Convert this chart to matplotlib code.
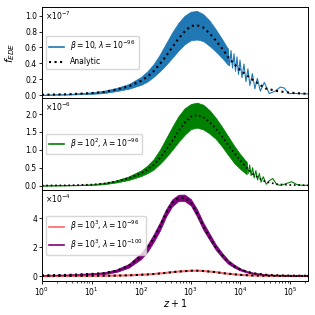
import numpy as np
import matplotlib
matplotlib.use("Agg")
import matplotlib.pyplot as plt
from matplotlib.ticker import MultipleLocator, FormatStrFormatter

lz = [0.0, 0.5, 1.0, 1.25, 1.5, 1.75, 2.0, 2.125, 2.25, 2.375, 2.5, 2.625, 2.75, 2.875,
      3.0, 3.125, 3.25, 3.375, 3.5, 3.625, 3.75, 3.875, 4.0, 4.125, 4.25, 4.5, 4.75, 5.0, 5.37]

# panel 1 : beta = 10, lambda = 1e-96  (units of 1e-7)
an1 = [0.005, 0.01, 0.025, 0.04, 0.07, 0.11, 0.18, 0.23, 0.30, 0.39, 0.49, 0.60, 0.71, 0.80,
       0.87, 0.88, 0.85, 0.78, 0.69, 0.59, 0.48, 0.39, 0.31, 0.25, 0.19, 0.085, 0.05, 0.03, 0.015]
up1 = [0.007, 0.014, 0.035, 0.055, 0.09, 0.14, 0.23, 0.30, 0.39, 0.51, 0.65, 0.79, 0.91, 1.00,
       1.05, 1.06, 1.02, 0.94, 0.83, 0.71, 0.58]
lo1 = [0.003, 0.006, 0.015, 0.025, 0.05, 0.08, 0.13, 0.17, 0.23, 0.30, 0.38, 0.47, 0.56, 0.64,
       0.69, 0.70, 0.68, 0.62, 0.55, 0.47, 0.38]
lz_tail1 = [3.75, 3.78, 3.81, 3.84, 3.87, 3.90, 3.93, 3.96, 3.99, 4.03, 4.07, 4.11, 4.15,
            4.19, 4.24, 4.29, 4.34, 4.40, 4.48, 4.58, 4.70, 4.80, 4.88, 4.97, 5.10, 5.37]
tail1 = [0.58, 0.37, 0.56, 0.34, 0.52, 0.30, 0.48, 0.26, 0.44, 0.22, 0.39, 0.17, 0.33,
         0.12, 0.27, 0.08, 0.21, 0.05, 0.16, 0.02, 0.05, 0.10, 0.09, 0.02, 0.02, 0.015]

# panel 2 : beta = 1e2, lambda = 1e-96  (units of 1e-6)
an2 = [0.005, 0.01, 0.03, 0.06, 0.12, 0.21, 0.35, 0.45, 0.58, 0.77, 1.0, 1.25, 1.52, 1.75,
       1.93, 1.97, 1.91, 1.78, 1.60, 1.38, 1.14, 0.91, 0.70, 0.50, 0.32, 0.11, 0.04, 0.02, 0.01]
up2 = [0.007, 0.014, 0.04, 0.08, 0.15, 0.26, 0.43, 0.56, 0.74, 1.00, 1.32, 1.64, 1.94, 2.16,
       2.28, 2.32, 2.26, 2.11, 1.90, 1.65, 1.38, 1.11, 0.87, 0.66]
lo2 = [0.003, 0.006, 0.02, 0.04, 0.09, 0.16, 0.27, 0.35, 0.45, 0.61, 0.79, 1.00, 1.22, 1.42,
       1.58, 1.62, 1.57, 1.46, 1.31, 1.10, 0.86, 0.63, 0.46, 0.32]
lz_tail2 = [4.125, 4.155, 4.185, 4.215, 4.245, 4.275, 4.31, 4.345, 4.38, 4.415, 4.46, 4.52,
            4.58, 4.65, 4.73, 4.82, 4.92, 5.03, 5.14, 5.25, 5.37]
tail2 = [0.66, 0.34, 0.58, 0.28, 0.50, 0.22, 0.42, 0.16, 0.34, 0.10, 0.25, 0.04,
         0.14, 0.20, 0.03, 0.01, 0.06, 0.11, 0.03, 0.01, 0.01]

# panel 3 : beta = 1e3  (units of 1e-4)
an_p = [0.05, 0.08, 0.15, 0.20, 0.36, 0.70, 1.38, 1.90, 2.60, 3.40, 4.35, 5.05, 5.40, 5.40,
        5.10, 4.35, 3.45, 2.72, 2.00, 1.45, 0.98, 0.68, 0.45, 0.30, 0.20, 0.09, 0.05, 0.03, 0.02]
up_p = [0.08, 0.11, 0.20, 0.27, 0.46, 0.84, 1.60, 2.15, 2.88, 3.70, 4.62, 5.30, 5.62, 5.63,
        5.32, 4.62, 3.70, 2.95, 2.20, 1.62, 1.12, 0.79, 0.53, 0.36, 0.25, 0.12, 0.07, 0.04, 0.03]
lo_p = [0.03, 0.05, 0.11, 0.14, 0.28, 0.58, 1.18, 1.67, 2.35, 3.12, 4.10, 4.82, 5.18, 5.18,
        4.88, 4.10, 3.20, 2.50, 1.82, 1.30, 0.85, 0.58, 0.38, 0.25, 0.16, 0.07, 0.04, 0.02, 0.015]
an_r = [0.0, 0.005, 0.01, 0.02, 0.03, 0.05, 0.09, 0.11, 0.14, 0.18, 0.22, 0.27, 0.31, 0.34,
        0.365, 0.37, 0.35, 0.31, 0.27, 0.21, 0.16, 0.12, 0.08, 0.06, 0.04, 0.02, 0.01, 0.005, 0.003]

labels = [r'$\beta=10$, $\lambda=10^{-96}$',
          r'$\beta=10^{2}$, $\lambda=10^{-96}$',
          r'$\beta=10^{3}$, $\lambda=10^{-96}$',
          r'$\beta=10^{3}$, $\lambda=10^{-100}$']
offsets = [r'$\times10^{-7}$', r'$\times10^{-6}$', r'$\times10^{-4}$']


def zp1(l):
    return 10 ** np.array(l)


plt.rcParams['font.size'] = 5.5
fig, axes = plt.subplots(3, 1, figsize=(3.15, 3.15), dpi=100, sharex=True)
fig.subplots_adjust(left=0.133, right=0.978, top=0.978, bottom=0.108, hspace=0)

# top
ax = axes[0]
ax.fill_between(zp1(lz[:21]), lo1, up1, color='C0', lw=0.5)
ax.plot(zp1(lz_tail1), tail1, color='C0', lw=0.8)
ax.plot(zp1(lz), an1, 'k:', lw=1.5)
h1, = ax.plot([], [], color='C0', lw=1.2, label=labels[0])
h2, = ax.plot([], [], 'k:', lw=1.5, label='Analytic')
ax.legend(handles=[h1, h2], loc='center left', fontsize=5.5)
ax.set_ylim(-0.04, 1.11)
ax.yaxis.set_major_locator(MultipleLocator(0.2))
ax.yaxis.set_major_formatter(FormatStrFormatter('%.1f'))
ax.set_ylabel(r'$f_{EDE}$', fontsize=7.5)
ax.yaxis.set_label_coords(-0.095, 0.5)

# middle
ax = axes[1]
ax.fill_between(zp1(lz[:24]), lo2, up2, color='green', lw=0.5)
ax.plot(zp1(lz_tail2), tail2, color='green', lw=0.8)
ax.plot(zp1(lz), an2, 'k:', lw=1.2)
h3, = ax.plot([], [], color='green', lw=1.2, label=labels[1])
ax.legend(handles=[h3], loc='center left', fontsize=5.5)
ax.set_ylim(-0.11, 2.44)
ax.yaxis.set_major_locator(MultipleLocator(0.5))
ax.yaxis.set_major_formatter(FormatStrFormatter('%.1f'))

# bottom
ax = axes[2]
ax.plot(zp1(lz), an_r, color='red', alpha=0.6, lw=1.5)
ax.fill_between(zp1(lz), lo_p, up_p, color='purple', lw=0.5)
ax.plot(zp1(lz), an_r, 'k:', lw=1.5)
ax.plot(zp1(lz), an_p, 'k:', lw=1.5)
h4, = ax.plot([], [], color='red', alpha=0.6, lw=1.2, label=labels[2])
h5, = ax.plot([], [], color='purple', lw=1.2, label=labels[3])
ax.legend(handles=[h4, h5], loc='center left', fontsize=5.5)
ax.set_ylim(-0.34, 5.97)
ax.yaxis.set_major_locator(MultipleLocator(2))
ax.yaxis.set_major_formatter(FormatStrFormatter('%d'))
ax.set_xscale('log')
ax.set_xlim(1, 2.3e5)
ax.set_xlabel(r'$z+1$', fontsize=7)
ax.xaxis.set_label_coords(0.5, -0.17)

for a, off in zip(axes, offsets):
    a.text(0.012, 0.97, off, transform=a.transAxes, va='top', ha='left', fontsize=5.5)
    a.tick_params(which='major', length=2.5, width=0.6, pad=1)
    a.tick_params(which='minor', length=1.5, width=0.5)
    for s in a.spines.values():
        s.set_linewidth(0.7)

fig.savefig('out.png', dpi=100)
